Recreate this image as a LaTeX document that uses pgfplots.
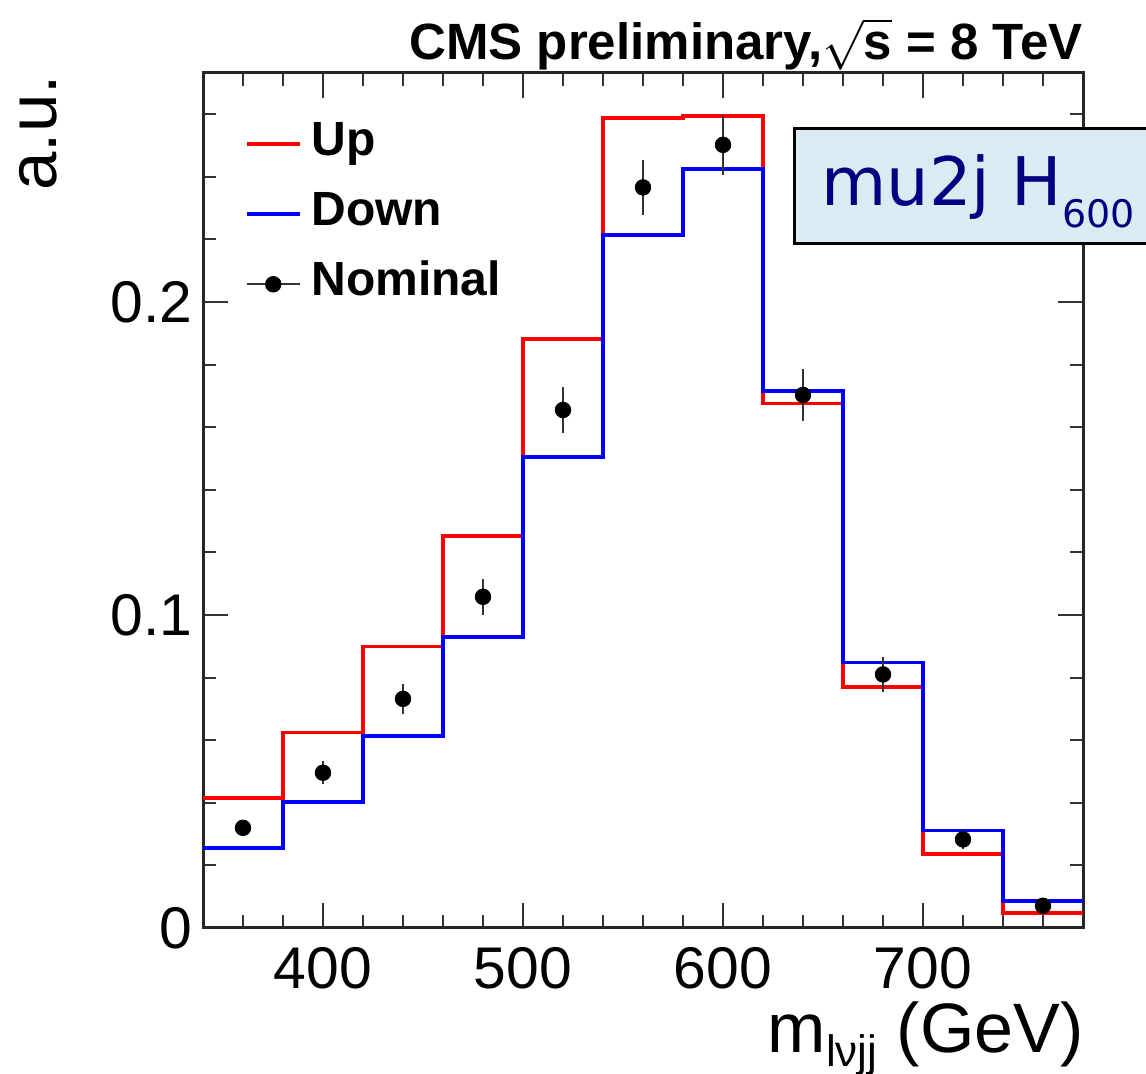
\documentclass[border=0pt]{standalone}
\usepackage{fontspec}
\setmainfont{Liberation Sans}
\newfontfamily\dejavu{DejaVu Sans}
\usepackage{pgfplots}
\pgfplotsset{compat=1.18}
\usepackage{pgfplotstable}

\definecolor{boxblue}{RGB}{218,236,242}
\definecolor{labelnavy}{RGB}{0,0,128}

% shape variations: bin left edges, last row closes the final bin
\pgfplotstableread{
x y
340 0.0416
380 0.0624
420 0.0899
460 0.1253
500 0.1881
540 0.2587
580 0.2595
620 0.1676
660 0.0769
700 0.0237
740 0.0048
780 0.0048
}\upvar

\pgfplotstableread{
x y
340 0.0256
380 0.0403
420 0.0613
460 0.0929
500 0.1505
540 0.2214
580 0.2425
620 0.1716
660 0.0848
700 0.0312
740 0.0086
780 0.0086
}\downvar

% nominal template: bin centres, content, statistical error
\pgfplotstableread{
x y e
360 0.0320 0.0025
400 0.0496 0.0037
440 0.0732 0.0048
480 0.1058 0.0058
520 0.1655 0.0072
560 0.2366 0.0089
600 0.2502 0.0096
640 0.1703 0.0082
680 0.0810 0.0057
720 0.0283 0.0030
760 0.0071 0.0018
}\nominal

\begin{document}
\begin{tikzpicture}
\path[use as bounding box] (-101.5pt,-73pt) rectangle (471.5pt,464pt);
\begin{axis}[
  at={(0pt,0pt)}, anchor=south west,
  scale only axis, width=440pt, height=427.5pt,
  xmin=340, xmax=780, ymin=0, ymax=0.27316,
  xtick={400,500,600,700},
  minor xtick={340,360,...,780},
  ytick={0,0.1,0.2},
  minor ytick={0.02,0.04,0.06,0.08,0.12,0.14,0.16,0.18,0.22,0.24,0.26},
  major tick length=12.5pt, minor tick length=6.5pt,
  tick style={line width=1pt, black!80},
  axis line style={line width=1.5pt, black!85},
  tick align=inside,
  /pgf/number format/assume math mode=true,
  ticklabel style={font=\fontsize{29.4}{30}\selectfont},
  yticklabel style={anchor=east, inner sep=0pt, xshift=-5pt},
  xticklabel style={anchor=north, inner sep=0pt, yshift=-9.5pt},
  legend style={at={(0.0477,0.944)}, anchor=north west, draw=none, fill=none,
    inner sep=0pt, outer sep=0pt, column sep=5pt, row sep=11.6pt,
    font=\fontsize{24}{26}\selectfont\bfseries,
    nodes={inner sep=0pt, text height=17.2pt, text depth=6.2pt}},
  legend cell align=left,
]
\addplot[red, line width=1.8pt, const plot mark left,
  legend image code/.code={\draw[red, line width=1.8pt] (0pt,0pt) -- (26.5pt,0pt);}]
  table[x=x, y=y] {\upvar};
\addlegendentry{Up}
\addplot[blue, line width=1.8pt, const plot mark left,
  legend image code/.code={\draw[blue, line width=1.8pt] (0pt,0pt) -- (26.5pt,0pt);}]
  table[x=x, y=y] {\downvar};
\addlegendentry{Down}
\addplot[only marks, mark=*, mark size=3.9pt, black,
  error bars/.cd, y dir=both, y explicit,
  error bar style={line width=1pt, black!80}, error mark=none,
  /pgfplots/legend image code/.code={\draw[black!80, line width=1pt] (0pt,0pt) -- (26.5pt,0pt);
    \fill[black] (13.25pt,0pt) circle (3.9pt);}]
  table[x=x, y=y, y error=e] {\nominal};
\addlegendentry{Nominal}
\end{axis}

% title
\node[anchor=base east, inner sep=0pt] at (440pt,434pt)
  {\fontsize{25.5}{30}\selectfont\bfseries CMS preliminary,$\sqrt{\mbox{\bfseries s}}$ = 8 TeV};
% axis titles
\node[rotate=90, anchor=base east, inner sep=0pt] at (-73pt,426.5pt)
  {\fontsize{34.5}{36}\selectfont a.u.};
\node[anchor=base east, inner sep=0pt] at (440.5pt,-62.5pt)
  {\fontsize{35}{36}\selectfont m\raisebox{-7pt}{\fontsize{22}{22}\selectfont lνjj} (GeV)};
% channel label
\draw[line width=1.5pt, fill=boxblue] (295.5pt,342pt) rectangle (520pt,399.5pt);
\node[anchor=base west, inner sep=0pt, text=labelnavy] at (309pt,361pt)
  {\dejavu\fontsize{33.5}{36}\selectfont mu2j H\raisebox{-11pt}{\fontsize{19}{20}\selectfont 600}};
\end{tikzpicture}
\end{document}
